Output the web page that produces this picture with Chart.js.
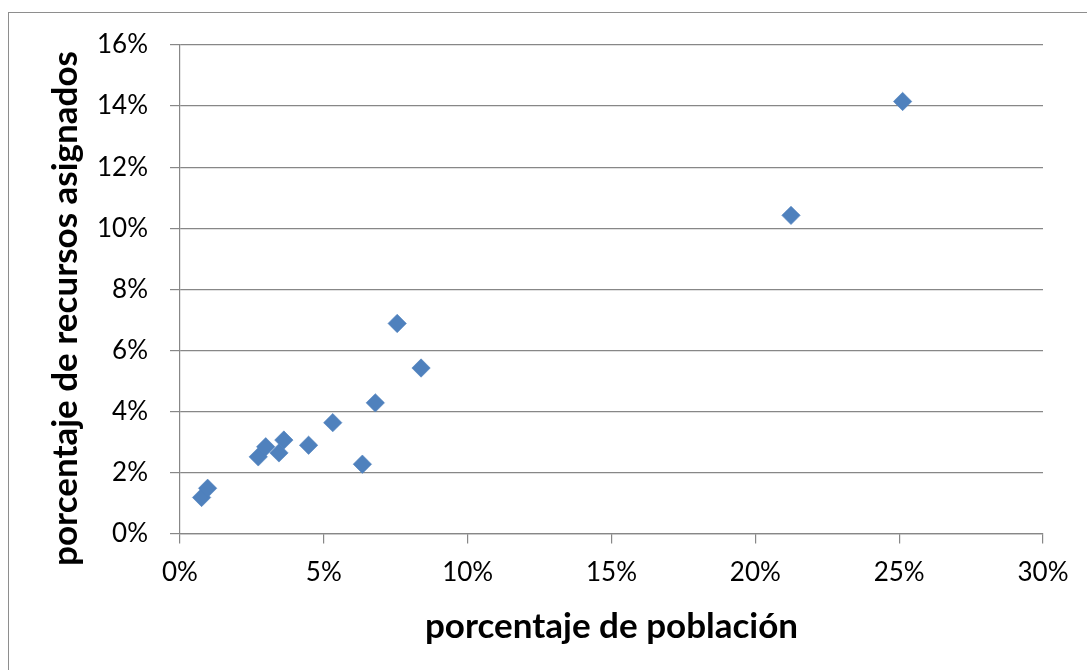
<!DOCTYPE html>
<html>
<head>
<meta charset="utf-8">
<script src="https://cdn.jsdelivr.net/npm/chart.js@4"></script>
<style>
  html, body { margin: 0; padding: 0; background: #fff; }
  #wrap { position: absolute; left: 0; top: 0; width: 1087px; height: 670px; }
</style>
</head>
<body>
<div id="wrap"><canvas id="c" width="1087" height="670"></canvas></div>
<script>
// Share of population (x) vs share of assigned resources (y), in percent
const poblacion = [0.75, 0.96, 2.72, 2.98, 3.44, 3.61, 4.47, 5.31, 6.34, 6.79, 7.55, 8.38, 21.24, 25.12];
const recursos  = [1.18, 1.48, 2.51, 2.84, 2.64, 3.06, 2.89, 3.63, 2.27, 4.28, 6.88, 5.42, 10.42, 14.15];

const xTicks = [0, 5, 10, 15, 20, 25, 30];
const yTicks = [0, 2, 4, 6, 8, 10, 12, 14, 16];

const xTitle = 'porcentaje de población';
const yTitle = 'porcentaje de recursos asignados';

const points = poblacion.map((v, i) => ({ x: v, y: recursos[i] }));

const gridColor = '#878787';
const tickFont = { family: 'Lato', size: 26 };
const titleFont = { family: 'Lato', size: 35, weight: 'bold' };

// Light frame around the chart
const framePlugin = {
  id: 'frame',
  beforeDraw(chart) {
    const ctx = chart.ctx;
    ctx.save();
    ctx.fillStyle = '#fff';
    ctx.fillRect(0, 0, chart.width, chart.height);
    ctx.strokeStyle = '#8e8e8e';
    ctx.lineWidth = 1;
    ctx.strokeRect(8.5, 12.5, chart.width + 20, chart.height + 20);
    ctx.restore();
  }
};

// Vertical title of the value axis, centred a little below the plot centre
const yTitlePlugin = {
  id: 'yTitle',
  afterDraw(chart) {
    const ctx = chart.ctx;
    ctx.save();
    ctx.translate(77, 308.5);
    ctx.rotate(-Math.PI / 2);
    ctx.font = 'bold 35px Lato';
    ctx.fillStyle = '#000';
    ctx.textAlign = 'center';
    ctx.textBaseline = 'alphabetic';
    ctx.fillText(yTitle, 0, 0);
    ctx.restore();
  }
};

new Chart(document.getElementById('c'), {
  type: 'scatter',
  data: {
    datasets: [{
      data: points,
      pointStyle: 'rectRot',
      pointRadius: 9.2,
      backgroundColor: '#4F81BD',
      borderColor: '#4F81BD',
      borderWidth: 0.6
    }]
  },
  options: {
    responsive: false,
    animation: false,
    events: [],
    layout: { padding: { left: 0, top: 45, right: 44, bottom: 0 } },
    plugins: { legend: { display: false }, tooltip: { enabled: false } },
    scales: {
      x: {
        type: 'linear',
        min: 0, max: 30,
        afterBuildTicks(scale) { scale.ticks = xTicks.map(v => ({ value: v })); },
        afterFit(scale) { scale.height = 136.5; },
        ticks: { font: tickFont, color: '#000', padding: 14, maxRotation: 0,
                 callback: v => v + '%' },
        grid: { drawOnChartArea: false, drawTicks: true, tickLength: 10, color: gridColor, lineWidth: 1.2 },
        border: { display: true, color: gridColor, width: 1.2 },
        title: { display: true, text: xTitle, font: titleFont, color: '#000',
                 padding: { top: 0, bottom: 22.5 } }
      },
      y: {
        type: 'linear',
        min: 0, max: 16,
        afterBuildTicks(scale) { scale.ticks = yTicks.map(v => ({ value: v })); },
        afterFit(scale) { scale.width = 180; },
        ticks: { font: tickFont, color: '#000', padding: 22,
                 callback: v => v + '%' },
        grid: { drawOnChartArea: true, drawTicks: true, tickLength: 10, color: gridColor, lineWidth: 1.2 },
        border: { display: true, color: gridColor, width: 1.2 },
        title: { display: false }
      }
    }
  },
  plugins: [framePlugin, yTitlePlugin]
});
</script>
</body>
</html>
